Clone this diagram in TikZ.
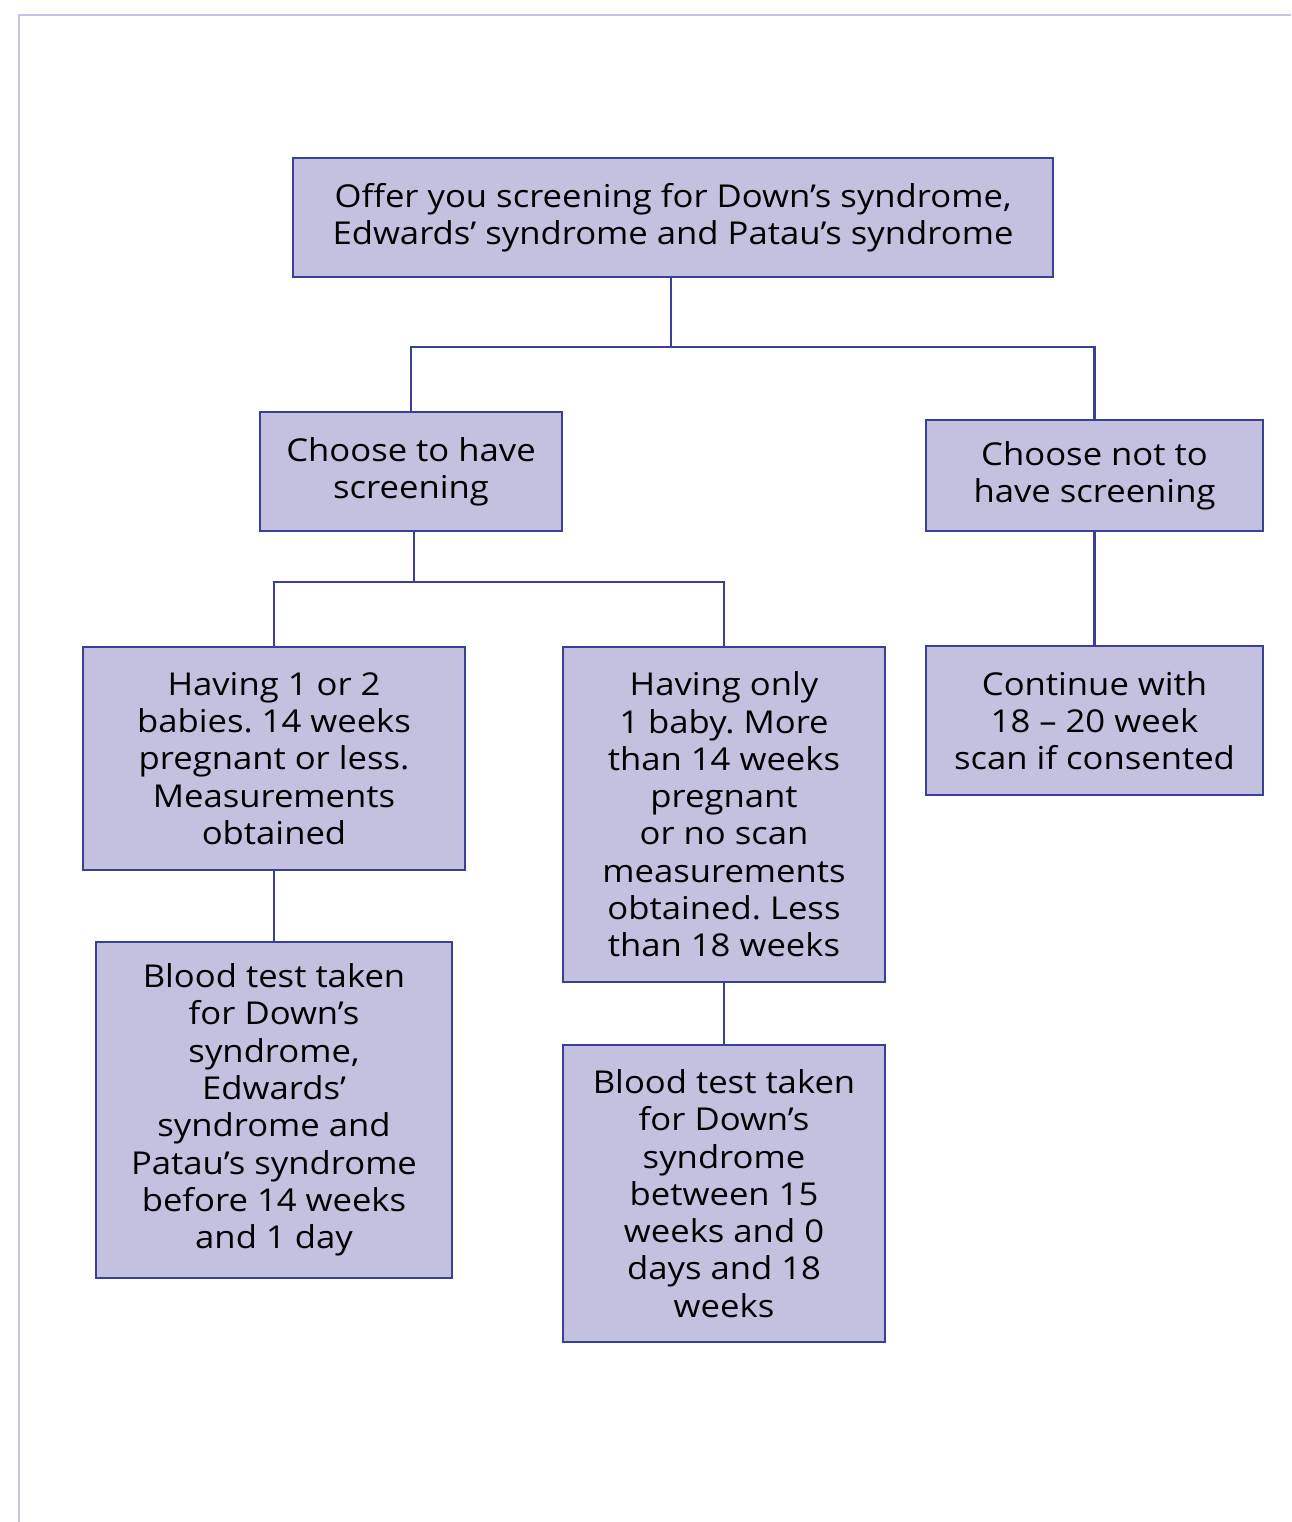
\documentclass[tikz,border=0pt]{standalone}
\usepackage{fontspec}
\setmainfont{Open Sans}[FakeStretch=1.1]
\definecolor{boxfill}{RGB}{196,192,224}
\definecolor{boxline}{RGB}{58,64,150}
\definecolor{frameline}{RGB}{200,196,230}
\frenchspacing
\begin{document}
\begin{tikzpicture}[x=1pt,y=-1pt,
  box/.style={draw=boxline,fill=boxfill,line width=2.2pt,inner sep=0pt,align=center,
    font=\fontsize{31.5}{37.3}\selectfont\frenchspacing},
  conn/.style={draw=boxline,line width=2.2pt}]
\useasboundingbox (0,0) rectangle (1291,1522);
\draw[frameline,line width=2.5pt] (19,1522) -- (19,15) -- (1291,15);
% boxes
\node[box,minimum width=760,minimum height=119] (top) at (673,217.5) {Offer you screening for Down’s syndrome,\\Edwards’ syndrome and Patau’s syndrome};
\node[box,minimum width=302,minimum height=119] (yes) at (411,471.5) {Choose to have\\screening};
\node[box,minimum width=337,minimum height=111] (no) at (1094.5,475.5) {Choose not to\\have screening};
\node[box,minimum width=382,minimum height=223] (one) at (274,758.5) {Having 1 or 2\\babies. 14 weeks\\pregnant or less.\\Measurements\\obtained};
\node[box,minimum width=322,minimum height=335] (only) at (724,814.5) {Having only\\1 baby. More\\than 14 weeks\\pregnant\\or no scan\\measurements\\obtained. Less\\than 18 weeks};
\node[box,minimum width=337,minimum height=149] (cont) at (1094.5,720.5) {Continue with\\18 – 20 week\\scan if consented};
\node[box,minimum width=356,minimum height=336] (blood1) at (274,1110) {Blood test taken\\for Down’s\\syndrome,\\Edwards’\\syndrome and\\Patau’s syndrome\\before 14 weeks\\and 1 day};
\node[box,minimum width=322,minimum height=297] (blood2) at (724,1193.5) {Blood test taken\\for Down’s\\syndrome\\between 15\\weeks and 0\\days and 18\\weeks};
% connectors
\coordinate (j1) at (671,347);
\coordinate (j2) at (414,582);
\draw[conn] (top.south -| j1) -- (j1);
\draw[conn] (yes.north) |- (j1) -| (no.north);
\draw[conn] (yes.south -| j2) -- (j2);
\draw[conn] (one.north) |- (j2) -| (only.north);
\draw[conn] (one.south) -- (blood1.north);
\draw[conn] (only.south) -- (blood2.north);
\draw[conn] (no.south) -- (cont.north);
\end{tikzpicture}
\end{document}
